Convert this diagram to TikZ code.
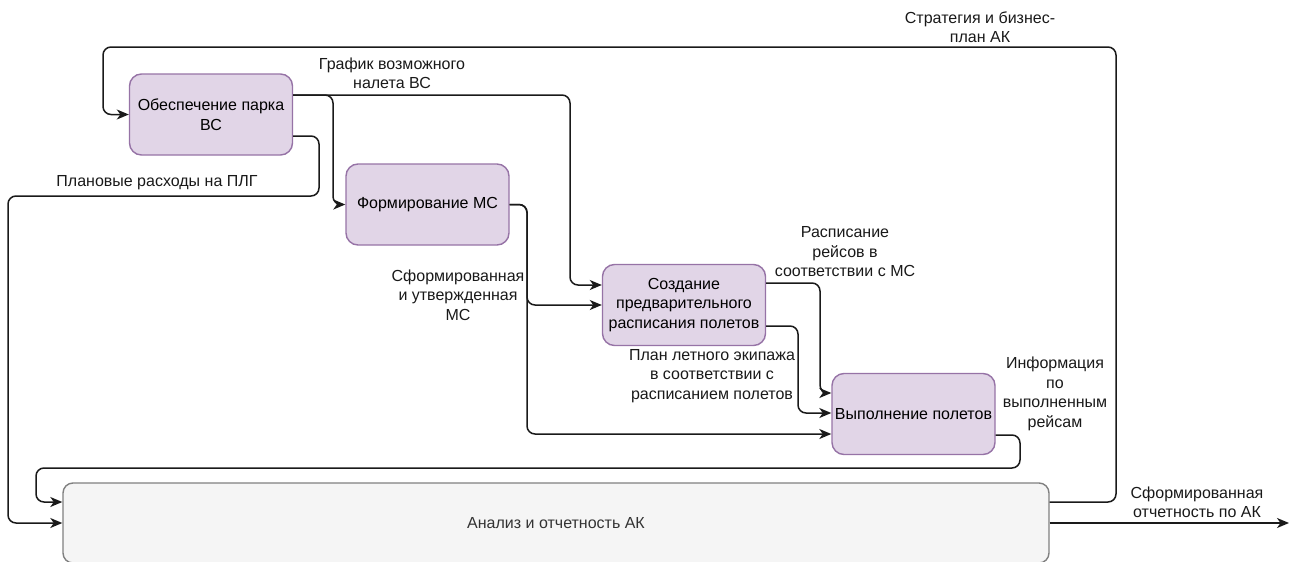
\documentclass[tikz,border=0pt]{standalone}
\usepackage{fontspec}
\setmainfont{Liberation Sans}
\usetikzlibrary{arrows.meta}
\definecolor{procfill}{HTML}{E1D5E7}
\definecolor{procline}{HTML}{9673A6}
\definecolor{anfill}{HTML}{F5F5F5}
\definecolor{anline}{HTML}{808080}
\definecolor{wire}{HTML}{1A1A1A}
\begin{document}
\begin{tikzpicture}[x=1pt,y=-1pt,
  every node/.style={font=\fontsize{16}{19.5}\selectfont},
  proc/.style={draw=procline, fill=procfill, line width=1.4pt, rounded corners=12pt,
    minimum width=163pt, minimum height=81pt, align=center, inner sep=2pt},
  analysis/.style={draw=anline, fill=anfill, line width=1.4pt, rounded corners=10pt,
    minimum width=986pt, minimum height=80pt, text=black!80},
  conn/.style={draw=wire, line width=1.5pt, rounded corners=8pt,
    -{Stealth[length=12pt,width=10pt,inset=3.5pt]}},
  lbl/.style={align=center, inner sep=0pt, text=black!90}]
\useasboundingbox (0,0) rectangle (1291,562);

% process blocks
\node[proc] (fleet) at (211,114.5) {Обеспечение парка\\ВС};
\node[proc] (ms) at (427.5,204.5) {Формирование МС};
\node[proc] (sched) at (684,305) {Создание\\предварительного\\расписания полетов};
\node[proc] (ops) at (913.5,414) {Выполнение полетов};
\node[analysis] (rep) at (556,523) {Анализ и отчетность АК};
\coordinate (out) at (1289,523);

% connectors
\draw[conn] ([yshift=21pt]rep.east) -- (1116,502) -- (1116,47) -- (103,47) -- (103,114.5) -- (fleet.west);
\draw[conn] ([yshift=19.5pt]fleet.east) -- (570,95) -- (570,285) -- ([yshift=20pt]sched.west);
\draw[conn] ([yshift=19.5pt]fleet.east) -- (333,95) -- (333,204.5) -- (ms.west);
\draw[conn] ([yshift=-21.5pt]fleet.east) -- (319,136) -- (319,196) -- (8,196) -- (8,523) -- (rep.west);
\draw[conn] (ms.east) -- (527,204.5) -- (527,305) -- (sched.west);
\draw[conn] (ms.east) -- (527,204.5) -- (527,434) -- ([yshift=-20pt]ops.west);
\draw[conn] ([yshift=22pt]sched.east) -- (820,283) -- (820,393) -- ([yshift=21pt]ops.west);
\draw[conn] ([yshift=-21pt]sched.east) -- (798,326) -- (798,413) -- ([yshift=1pt]ops.west);
\draw[conn] ([yshift=-21pt]ops.east) -- (1020,435) -- (1020,468) -- (36,468) -- (36,502) -- ([yshift=21pt]rep.west);
\draw[conn] (rep.east) -- (out);

% flow labels
\node[lbl] (lstrat) at (980,27) {Стратегия и бизнес-\\план АК};
\node[lbl] (lgraph) at (392,73.5) {График возможного\\налета ВС};
\node[lbl] (lcost) at (157,183) {Плановые расходы на ПЛГ};
\node[lbl] (lms) at (458,295) {Сформированная\\и утвержденная\\МС};
\node[lbl] (lflights) at (845,252) {Расписание\\рейсов в\\соответствии с МС};
\node[lbl] (lcrew) at (712,376) {План летного экипажа\\в соответствии с\\расписанием полетов};
\node[lbl] (linfo) at (1055,394) {Информация\\по\\выполненным\\рейсам};
\node[lbl] (lout) at (1197,502.5) {Сформированная\\отчетность по АК};
\end{tikzpicture}
\end{document}
